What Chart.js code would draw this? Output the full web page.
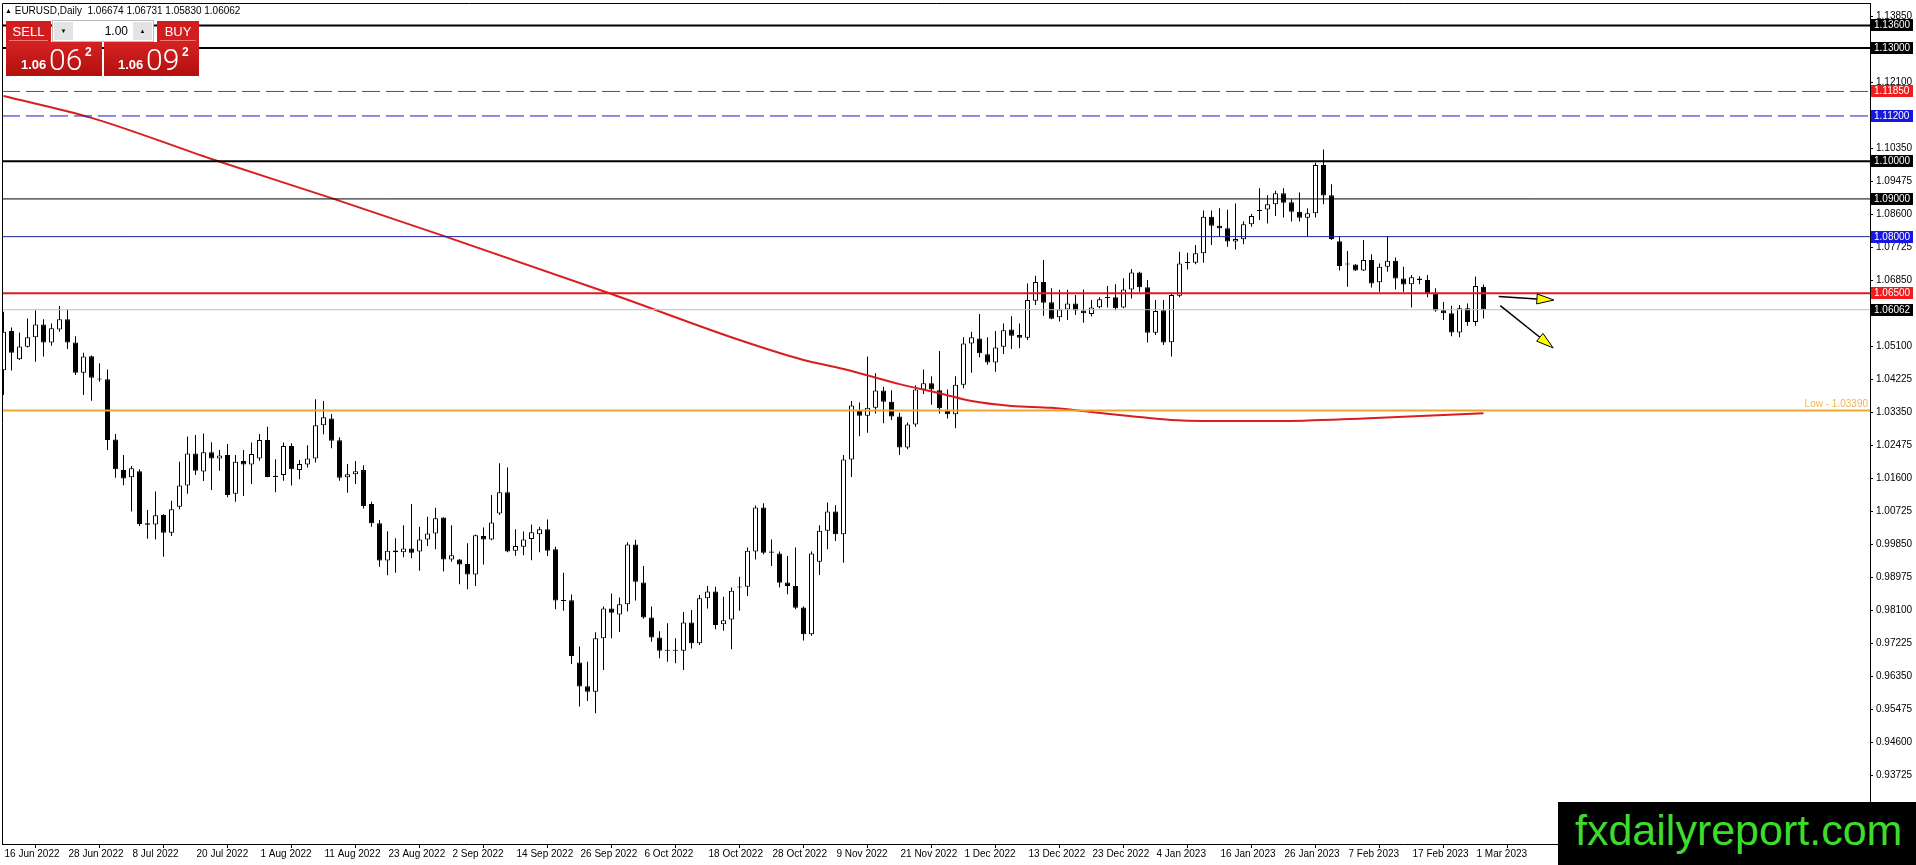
<!DOCTYPE html>
<html>
<head>
  <title>EURUSD Daily</title>
  <script src="https://cdn.jsdelivr.net/npm/chart.js"></script>
  <style>
    body {
      margin: 0;
      background: #fff;
      width: 1916px;
      height: 865px;
      overflow: hidden;
      position: relative;
      font-family: 'Liberation Sans', sans-serif;
    }
    #priceChart { position: absolute; left: 0; top: 0; }

    .hdr { position: absolute; left: 5px; top: 5px; font-size: 10px; line-height: 12px; color: #000; white-space: pre; }
    .hdr .tri { font-size: 7px; vertical-align: 1px; }

    .box { position: absolute; color: #fff; }
    .red { background: #d11d1d; }
    .sell { left: 6px; top: 21px; width: 45px; height: 21px; }
    .buy { left: 157px; top: 21px; width: 42px; height: 21px; }
    .sell span, .buy span {
      position: absolute; left: 3px; right: 3px; top: 3px; height: 16px;
      border-bottom: 1px solid #e77; text-align: center; font-size: 13px; line-height: 16px;
    }
    .lot { left: 52px; top: 20px; width: 100px; height: 20px; background: #fff; border: 1px solid #bbb; color: #000; }
    .lot .dn, .lot .up {
      position: absolute; top: 1px; width: 19px; height: 18px; background: #e3e3e3;
      font-size: 6px; line-height: 18px; text-align: center; color: #000;
    }
    .lot .dn { left: 1px; }
    .lot .up { right: 1px; }
    .lot .val { position: absolute; right: 25px; top: 3px; font-size: 12px; line-height: 14px; }
    .pbox { top: 42px; height: 34px; background: linear-gradient(#d42222, #b30f0f); }
    .pbox.s { left: 6px; width: 96px; }
    .pbox.b { left: 104px; width: 95px; }
    .pbox .sm { position: absolute; bottom: 4px; font-size: 13px; font-weight: bold; }
    .pbox .big { position: absolute; top: 1px; font-family: Roboto, 'Liberation Sans', sans-serif; font-weight: 300; font-size: 30px; line-height: 34px; }
    .pbox .sup { position: absolute; top: 3px; font-size: 12px; font-weight: bold; }

    .brand {
      position: absolute; left: 1558px; top: 802px; width: 358px; height: 63px;
      background: #000; color: #3ddc2a; font-size: 43px; line-height: 56px;
      padding-left: 17px; box-sizing: border-box; white-space: nowrap;
    }
  </style>
</head>
<body>

  <canvas id="priceChart" width="1916" height="865"></canvas>

  <div class="hdr"><span class="tri">&#9650;</span> EURUSD,Daily  1.06674 1.06731 1.05830 1.06062</div>

  <div class="box red sell"><span>SELL</span></div>
  <div class="box lot"><div class="dn">&#9660;</div><div class="val">1.00</div><div class="up">&#9650;</div></div>
  <div class="box red buy"><span>BUY</span></div>
  <div class="box pbox s"><span class="sm" style="left:15px">1.06</span><span class="big" style="left:43px">06</span><span class="sup" style="left:79px">2</span></div>
  <div class="box pbox b"><span class="sm" style="left:14px">1.06</span><span class="big" style="left:42px">09</span><span class="sup" style="left:78px">2</span></div>

  <div class="brand">fxdailyreport.com</div>

  <script>
    // daily bars, 16 Jun 2022 .. 2 Mar 2023, one bar every weekday
    const opens = [
      1.0446, 1.0550, 1.0475, 1.0508, 1.0533, 1.0567, 1.0519, 1.0554, 1.0581, 1.0519,
      1.0439, 1.0483, 1.0424, 1.0422, 1.0262, 1.0181, 1.0162, 1.0178, 1.0040, 1.0037,
      1.0062, 1.0015, 1.0084, 1.0140, 1.0225, 1.0177, 1.0228, 1.0212, 1.0221, 1.0118,
      1.0205, 1.0196, 1.0212, 1.0261, 1.0163, 1.0168, 1.0245, 1.0181, 1.0196, 1.0212,
      1.0300, 1.0318, 1.0260, 1.0162, 1.0170, 1.0181, 1.0091, 1.0040, 0.9941, 0.9968,
      0.9963, 0.9973, 0.9965, 0.9997, 1.0013, 1.0055, 0.9944, 0.9944, 0.9932, 0.9904,
      1.0006, 0.9997, 1.0066, 1.0122, 0.9967, 0.9978, 0.9998, 1.0011, 1.0024, 0.9971,
      0.9836, 0.9836, 0.9671, 0.9608, 0.9593, 0.9735, 0.9814, 0.9798, 0.9825, 0.9984,
      0.9883, 0.9790, 0.9737, 0.9704, 0.9702, 0.9702, 0.9777, 0.9722, 0.9841, 0.9859,
      0.9772, 0.9785, 0.9870, 0.9872, 0.9965, 1.0082, 0.9962, 0.9960, 0.9883, 0.9874,
      0.9817, 0.9746, 0.9938, 1.0020, 1.0071, 1.0011, 1.0209, 1.0338, 1.0325, 1.0346,
      1.0392, 1.0362, 1.0323, 1.0241, 1.0302, 1.0395, 1.0411, 1.0393, 1.0338, 1.0329,
      1.0407, 1.0517, 1.0530, 1.0488, 1.0466, 1.0508, 1.0554, 1.0539, 1.0532, 1.0630,
      1.0680, 1.0626, 1.0586, 1.0607, 1.0623, 1.0604, 1.0595, 1.0613, 1.0638, 1.0639,
      1.0612, 1.0660, 1.0705, 1.0666, 1.0545, 1.0605, 1.0520, 1.0643, 1.0731, 1.0731,
      1.0756, 1.0853, 1.0829, 1.0822, 1.0787, 1.0793, 1.0833, 1.0868, 1.0872, 1.0886,
      1.0915, 1.0891, 1.0866, 1.0850, 1.0862, 1.0990, 1.0910, 1.0788, 1.0727, 1.0726,
      1.0710, 1.0738, 1.0679, 1.0720, 1.0736, 1.0689, 1.0674, 1.0689, 1.0685, 1.0650,
      1.0605, 1.0597, 1.0546, 1.0610, 1.0574, 1.0667
    ];
    const highs = [
      1.0601, 1.0559, 1.0546, 1.0583, 1.0605, 1.0581, 1.0570, 1.0616, 1.0607, 1.0536,
      1.0492, 1.0485, 1.0464, 1.0448, 1.0277, 1.0221, 1.0192, 1.0183, 1.0075, 1.0124,
      1.0064, 1.0100, 1.0203, 1.0270, 1.0274, 1.0278, 1.0255, 1.0234, 1.0250, 1.0221,
      1.0234, 1.0254, 1.0277, 1.0296, 1.0210, 1.0254, 1.0252, 1.0208, 1.0247, 1.0369,
      1.0364, 1.0330, 1.0268, 1.0197, 1.0205, 1.0194, 1.0097, 1.0049, 1.0019, 1.0000,
      1.0035, 1.0091, 1.0031, 1.0057, 1.0081, 1.0056, 1.0035, 0.9945, 0.9987, 1.0010,
      1.0029, 1.0115, 1.0199, 1.0188, 1.0024, 1.0018, 1.0037, 1.0031, 1.0050, 0.9978,
      0.9909, 0.9851, 0.9713, 0.9673, 0.9751, 0.9819, 0.9854, 0.9843, 0.9990, 0.9996,
      0.9927, 0.9819, 0.9754, 0.9775, 0.9735, 0.9805, 0.9810, 0.9850, 0.9874, 0.9872,
      0.9845, 0.9870, 0.9898, 0.9976, 1.0087, 1.0093, 0.9997, 0.9965, 0.9953, 0.9976,
      0.9819, 0.9965, 1.0035, 1.0095, 1.0088, 1.0221, 1.0364, 1.0360, 1.0482, 1.0438,
      1.0402, 1.0393, 1.0333, 1.0307, 1.0406, 1.0448, 1.0430, 1.0497, 1.0395, 1.0430,
      1.0533, 1.0548, 1.0595, 1.0533, 1.0550, 1.0570, 1.0589, 1.0570, 1.0676, 1.0696,
      1.0738, 1.0663, 1.0659, 1.0659, 1.0645, 1.0660, 1.0632, 1.0639, 1.0669, 1.0674,
      1.0690, 1.0714, 1.0707, 1.0685, 1.0632, 1.0632, 1.0650, 1.0760, 1.0757, 1.0778,
      1.0869, 1.0869, 1.0875, 1.0871, 1.0888, 1.0841, 1.0860, 1.0928, 1.0910, 1.0922,
      1.0928, 1.0899, 1.0917, 1.0875, 1.0996, 1.1031, 1.0939, 1.0800, 1.0762, 1.0727,
      1.0791, 1.0753, 1.0729, 1.0802, 1.0745, 1.0720, 1.0698, 1.0695, 1.0698, 1.0663,
      1.0627, 1.0617, 1.0619, 1.0623, 1.0694, 1.0673
    ];
    const lows = [
      1.0380, 1.0445, 1.0473, 1.0506, 1.0468, 1.0482, 1.0511, 1.0548, 1.0502, 1.0433,
      1.0380, 1.0365, 1.0415, 1.0234, 1.0161, 1.0141, 1.0071, 1.0033, 0.9999, 0.9997,
      0.9951, 1.0006, 1.0077, 1.0118, 1.0168, 1.0152, 1.0128, 1.0179, 1.0109, 1.0097,
      1.0112, 1.0144, 1.0206, 1.0162, 1.0122, 1.0153, 1.0140, 1.0157, 1.0188, 1.0201,
      1.0276, 1.0239, 1.0153, 1.0121, 1.0144, 1.0079, 1.0031, 0.9925, 0.9902, 0.9909,
      0.9950, 0.9947, 0.9914, 0.9980, 0.9971, 0.9912, 0.9938, 0.9878, 0.9865, 0.9874,
      0.9931, 0.9995, 1.0062, 0.9963, 0.9954, 0.9955, 0.9942, 0.9963, 0.9953, 0.9812,
      0.9808, 0.9667, 0.9554, 0.9569, 0.9536, 0.9651, 0.9735, 0.9752, 0.9806, 0.9835,
      0.9787, 0.9726, 0.9682, 0.9673, 0.9669, 0.9651, 0.9708, 0.9717, 0.9814, 0.9759,
      0.9755, 0.9706, 0.9808, 0.9847, 0.9944, 0.9958, 0.9927, 0.9870, 0.9852, 0.9812,
      0.9729, 0.9742, 0.9903, 0.9971, 0.9993, 0.9935, 1.0163, 1.0271, 1.0280, 1.0331,
      1.0305, 1.0314, 1.0221, 1.0236, 1.0296, 1.0383, 1.0354, 1.0331, 1.0318, 1.0292,
      1.0398, 1.0439, 1.0480, 1.0460, 1.0442, 1.0489, 1.0502, 1.0504, 1.0526, 1.0619,
      1.0590, 1.0581, 1.0575, 1.0579, 1.0592, 1.0572, 1.0588, 1.0610, 1.0612, 1.0605,
      1.0610, 1.0636, 1.0654, 1.0519, 1.0539, 1.0513, 1.0482, 1.0639, 1.0713, 1.0727,
      1.0731, 1.0778, 1.0800, 1.0773, 1.0766, 1.0780, 1.0826, 1.0844, 1.0835, 1.0855,
      1.0851, 1.0840, 1.0840, 1.0800, 1.0851, 1.0886, 1.0791, 1.0710, 1.0667, 1.0709,
      1.0709, 1.0665, 1.0654, 1.0707, 1.0660, 1.0654, 1.0612, 1.0674, 1.0639, 1.0601,
      1.0579, 1.0536, 1.0533, 1.0564, 1.0564, 1.0583
    ];
    const closes = [
      1.0548, 1.0492, 1.0509, 1.0533, 1.0567, 1.0519, 1.0557, 1.0581, 1.0519, 1.0439,
      1.0482, 1.0426, 1.0421, 1.0261, 1.0183, 1.0159, 1.0186, 1.0038, 1.0036, 1.0061,
      1.0015, 1.0077, 1.0140, 1.0225, 1.0179, 1.0228, 1.0212, 1.0220, 1.0115, 1.0203,
      1.0196, 1.0224, 1.0261, 1.0163, 1.0166, 1.0245, 1.0183, 1.0197, 1.0212, 1.0300,
      1.0321, 1.0259, 1.0161, 1.0170, 1.0178, 1.0086, 1.0040, 0.9941, 0.9967, 0.9963,
      0.9973, 0.9962, 0.9997, 1.0013, 1.0053, 0.9944, 0.9955, 0.9931, 0.9904, 1.0008,
      0.9997, 1.0042, 1.0122, 0.9965, 0.9980, 0.9997, 1.0016, 1.0024, 0.9967, 0.9835,
      0.9834, 0.9688, 0.9607, 0.9593, 0.9735, 0.9814, 0.9803, 0.9825, 0.9984, 0.9885,
      0.9790, 0.9737, 0.9702, 0.9702, 0.9704, 0.9777, 0.9722, 0.9841, 0.9859, 0.9770,
      0.9783, 0.9861, 0.9872, 0.9967, 1.0082, 0.9962, 0.9965, 0.9882, 0.9874, 0.9816,
      0.9746, 0.9960, 1.0020, 1.0071, 1.0011, 1.0209, 1.0352, 1.0325, 1.0346, 1.0392,
      1.0362, 1.0323, 1.0241, 1.0302, 1.0395, 1.0411, 1.0395, 1.0345, 1.0329, 1.0407,
      1.0517, 1.0533, 1.0491, 1.0466, 1.0506, 1.0552, 1.0537, 1.0532, 1.0632, 1.0680,
      1.0625, 1.0582, 1.0607, 1.0623, 1.0604, 1.0597, 1.0612, 1.0634, 1.0637, 1.0610,
      1.0660, 1.0705, 1.0666, 1.0545, 1.0603, 1.0519, 1.0645, 1.0729, 1.0730, 1.0756,
      1.0853, 1.0829, 1.0822, 1.0787, 1.0794, 1.0833, 1.0855, 1.0869, 1.0886, 1.0915,
      1.0890, 1.0866, 1.0850, 1.0862, 1.0990, 1.0909, 1.0794, 1.0722, 1.0726, 1.0710,
      1.0738, 1.0676, 1.0720, 1.0736, 1.0689, 1.0673, 1.0692, 1.0685, 1.0648, 1.0604,
      1.0597, 1.0546, 1.0610, 1.0574, 1.0669, 1.0606
    ];

    // red moving average, sampled at these bars
    const maBars = [0, 11, 26, 41, 55, 76, 92, 100, 105, 112, 117, 121, 126, 131, 136, 141, 146, 150, 159, 170, 185];
    const maValues = [1.1173, 1.1115, 1.1006, 1.0902, 1.0802, 1.0648, 1.0526, 1.0473, 1.0449, 1.0409, 1.0385,
                      1.0364, 1.0351, 1.0346, 1.0335, 1.0324, 1.0314, 1.0311, 1.0311, 1.0318, 1.0332];

    // horizontal levels drawn on the chart
    const levels = [1.13600, 1.13000, 1.11850, 1.11200, 1.10000, 1.09000, 1.08000, 1.06500, 1.06062, 1.03390];
    const levelStyle = [
      { color: '#000', width: 2, dash: [], box: '#000' },
      { color: '#000', width: 2, dash: [], box: '#000' },
      { color: '#e01b1b', width: 1, dash: [18, 6], box: '#ee1c1c' },
      { color: '#1a1ad0', width: 1, dash: [18, 6], box: '#1717e0' },
      { color: '#000', width: 2, dash: [], box: '#000' },
      { color: '#000', width: 1, dash: [], box: '#000' },
      { color: '#20209a', width: 1, dash: [], box: '#1717e0' },
      { color: '#e01b1b', width: 2, dash: [], box: '#ee1c1c' },
      { color: '#c0c0c0', width: 1, dash: [], box: '#000' },
      { color: '#eda532', width: 2, dash: [], box: null }
    ];
    const lowLabel = 'Low - 1.03390';

    // two drawn arrows, in bar / price units
    const arrowFromBar = [186.9, 187.1];
    const arrowFromPrice = [1.0641, 1.0617];
    const arrowToBar = [193.8, 193.7];
    const arrowToPrice = [1.0632, 1.0505];

    const yTickLabels = ['0.93725', '0.94600', '0.95475', '0.96350', '0.97225', '0.98100', '0.98975', '0.99850',
                         '1.00725', '1.01600', '1.02475', '1.03350', '1.04225', '1.05100', '1.05975', '1.06850',
                         '1.07725', '1.08600', '1.09475', '1.10350', '1.11225', '1.12100', '1.12975', '1.13850'];
    const xTickLabels = ['16 Jun 2022', '28 Jun 2022', '8 Jul 2022', '20 Jul 2022', '1 Aug 2022', '11 Aug 2022',
                         '23 Aug 2022', '2 Sep 2022', '14 Sep 2022', '26 Sep 2022', '6 Oct 2022', '18 Oct 2022',
                         '28 Oct 2022', '9 Nov 2022', '21 Nov 2022', '1 Dec 2022', '13 Dec 2022', '23 Dec 2022',
                         '4 Jan 2023', '16 Jan 2023', '26 Jan 2023', '7 Feb 2023', '17 Feb 2023', '1 Mar 2023'];
    const barsPerLabel = 8;

    const X_MIN = -0.1875, X_MAX = 233.3125;
    const Y_MIN = 0.91896, Y_MAX = 1.14195;

    Chart.defaults.font.family = "'Liberation Sans', sans-serif";
    Chart.defaults.font.size = 10;
    Chart.defaults.color = '#000';

    const bodies = opens.map((o, i) => ({ x: i, y: [o, closes[i]] }));
    const wicks = lows.map((l, i) => ({ x: i, y: [l, highs[i]] }));
    const bodyFill = opens.map((o, i) => (closes[i] >= o ? '#fff' : '#000'));

    const levelSets = levels.map((lv, i) => ({
      type: 'line',
      data: [{ x: X_MIN, y: lv }, { x: X_MAX, y: lv }],
      borderColor: levelStyle[i].color,
      borderWidth: levelStyle[i].width,
      borderDash: levelStyle[i].dash,
      pointRadius: 0,
      order: 0
    }));

    // keep the plot area exactly where the terminal has it
    const noPad = s => {
      s.paddingTop = 0;
      s.paddingBottom = 0;
      s.paddingLeft = 0;
      s.paddingRight = 0;
    };

    const overlay = {
      id: 'mt4Overlay',
      afterDraw(chart) {
        const { ctx, chartArea: a, scales: { x, y } } = chart;
        ctx.save();

        // frame on left and top
        ctx.strokeStyle = '#000';
        ctx.lineWidth = 1;
        ctx.beginPath();
        ctx.moveTo(a.left + 0.5, a.bottom);
        ctx.lineTo(a.left + 0.5, a.top + 0.5);
        ctx.lineTo(a.right, a.top + 0.5);
        ctx.stroke();

        // arrows
        arrowFromBar.forEach((b, i) => {
          const x0 = x.getPixelForValue(b), y0 = y.getPixelForValue(arrowFromPrice[i]);
          const x1 = x.getPixelForValue(arrowToBar[i]), y1 = y.getPixelForValue(arrowToPrice[i]);
          const ang = Math.atan2(y1 - y0, x1 - x0);
          const len = 17, half = 5;
          const bx = x1 - Math.cos(ang) * len, by = y1 - Math.sin(ang) * len;
          ctx.strokeStyle = '#000';
          ctx.lineWidth = 1.5;
          ctx.beginPath();
          ctx.moveTo(x0, y0);
          ctx.lineTo(bx, by);
          ctx.stroke();
          ctx.beginPath();
          ctx.moveTo(x1, y1);
          ctx.lineTo(bx + Math.sin(ang) * half, by - Math.cos(ang) * half);
          ctx.lineTo(bx - Math.sin(ang) * half, by + Math.cos(ang) * half);
          ctx.closePath();
          ctx.fillStyle = '#ffff00';
          ctx.fill();
          ctx.lineWidth = 1;
          ctx.stroke();
        });

        // text for the low line
        const lowY = y.getPixelForValue(levels[levels.length - 1]);
        ctx.font = "10px 'Liberation Sans', sans-serif";
        ctx.fillStyle = '#f2b451';
        ctx.textAlign = 'right';
        ctx.textBaseline = 'middle';
        ctx.fillText(lowLabel, a.right - 2, lowY - 6);

        // price boxes on the axis
        ctx.textAlign = 'left';
        levels.forEach((lv, i) => {
          if (!levelStyle[i].box) return;
          const py = Math.round(y.getPixelForValue(lv));
          ctx.fillStyle = levelStyle[i].box;
          ctx.fillRect(a.right + 1, py - 6, 42, 12);
          ctx.fillStyle = '#fff';
          ctx.fillText(lv.toFixed(5), a.right + 4, py + 0.5);
        });
        ctx.restore();
      }
    };

    const ctx = document.getElementById('priceChart').getContext('2d');
    new Chart(ctx, {
      type: 'bar',
      data: {
        datasets: [
          ...levelSets,
          {
            type: 'line',
            data: maBars.map((b, i) => ({ x: b, y: maValues[i] })),
            borderColor: '#d81e1e',
            borderWidth: 2,
            pointRadius: 0,
            cubicInterpolationMode: 'monotone',
            order: 1
          },
          {
            data: bodies,
            backgroundColor: bodyFill,
            borderColor: '#000',
            borderWidth: 1,
            borderSkipped: false,
            barThickness: 5,
            minBarLength: 1,
            inflateAmount: 0,
            grouped: false,
            order: 2
          },
          {
            data: wicks,
            backgroundColor: '#000',
            borderWidth: 0,
            barThickness: 1,
            minBarLength: 1,
            inflateAmount: 0,
            grouped: false,
            order: 3
          }
        ]
      },
      options: {
        responsive: false,
        animation: false,
        events: [],
        layout: { padding: { left: 2, top: 3, right: 0, bottom: 0 } },
        plugins: { legend: { display: false }, tooltip: { enabled: false } },
        scales: {
          x: {
            type: 'linear',
            min: X_MIN,
            max: X_MAX,
            offset: false,
            afterBuildTicks: s => { s.ticks = xTickLabels.map((t, i) => ({ value: i * barsPerLabel })); },
            afterFit: s => { s.height = 21; noPad(s); },
            grid: { drawOnChartArea: false, drawTicks: true, tickLength: 4, color: '#000' },
            border: { display: true, color: '#000', width: 1 },
            ticks: {
              autoSkip: false,
              maxRotation: 0,
              minRotation: 0,
              align: 'start',
              labelOffset: 1,
              padding: 0,
              callback: v => xTickLabels[Math.round(v / barsPerLabel)]
            }
          },
          y: {
            type: 'linear',
            position: 'right',
            min: Y_MIN,
            max: Y_MAX,
            afterBuildTicks: s => { s.ticks = yTickLabels.map(t => ({ value: parseFloat(t) })); },
            afterFit: s => { s.width = 46; noPad(s); },
            grid: { drawOnChartArea: false, drawTicks: true, tickLength: 3, color: '#000' },
            border: { display: true, color: '#000', width: 1 },
            ticks: {
              autoSkip: false,
              padding: 3,
              callback: v => yTickLabels.find(t => Math.abs(parseFloat(t) - v) < 1e-6) || ''
            }
          }
        }
      },
      plugins: [overlay]
    });
  </script>
</body>
</html>
